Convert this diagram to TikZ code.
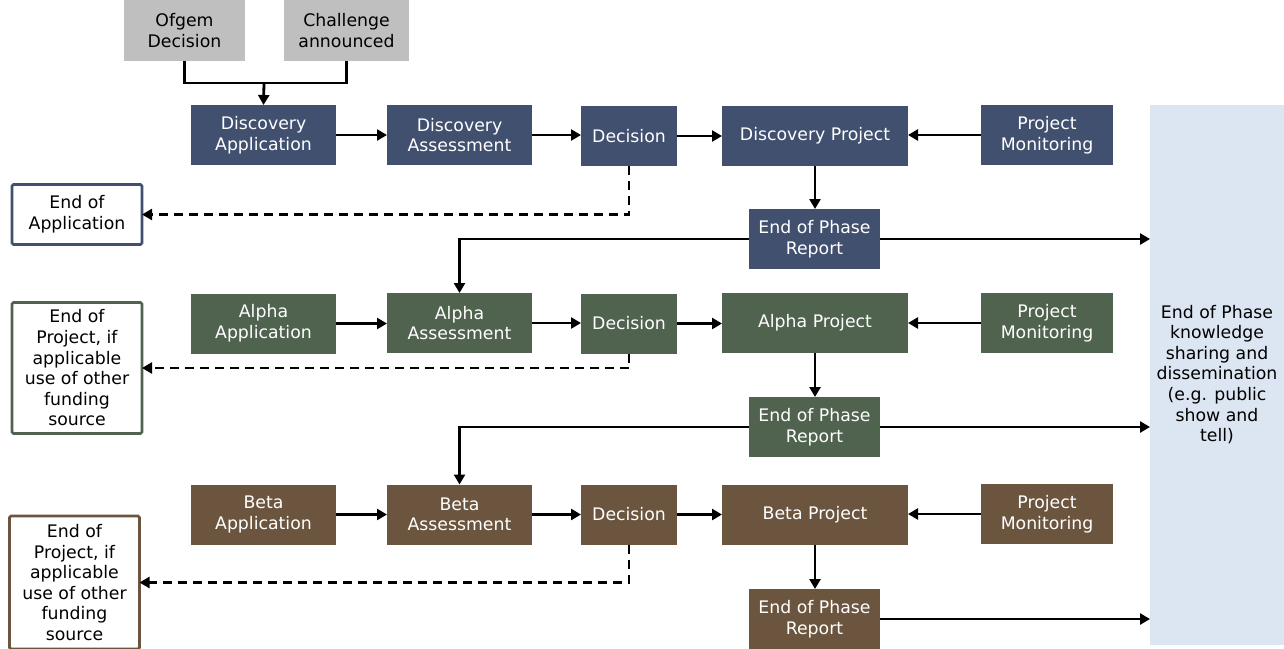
\documentclass[tikz,border=0pt]{standalone}
\usepackage{fontspec}
\setmainfont{DejaVu Sans}
\usetikzlibrary{arrows.meta,calc}
\definecolor{cdisc}{HTML}{41506F}
\definecolor{calpha}{HTML}{50634F}
\definecolor{cbeta}{HTML}{6B553E}
\definecolor{cgray}{HTML}{BFBFBF}
\definecolor{clight}{HTML}{DCE6F2}
\begin{document}
\begin{tikzpicture}[x=1pt,y=-1pt,
  every node/.style={font=\fontsize{17.3}{20.6}\selectfont, align=center, inner sep=0pt, outer sep=0pt},
  box/.style={minimum height=60pt, text=white},
  dbox/.style={box, fill=cdisc},
  abox/.style={box, fill=calpha},
  bbox/.style={box, fill=cbeta},
  gbox/.style={fill=cgray, text=black, minimum height=61pt},
  endbox/.style={draw=#1, fill=white, line width=2.6pt, rounded corners=1.5pt, text=black, minimum width=130pt},
  wapp/.style={minimum width=145pt},
  wdec/.style={minimum width=96pt},
  wproj/.style={minimum width=186pt},
  wmon/.style={minimum width=132pt},
  weop/.style={minimum width=131pt},
  conn/.style={line width=2.8pt, draw=black},
  arr/.style={conn, -{Triangle[length=10pt,width=11pt]}},
  darr/.style={arr, dash pattern=on 9pt off 6pt},
]
\useasboundingbox (0,0) rectangle (1284,648);

% light blue dissemination panel
\node[fill=clight, minimum width=134pt, minimum height=540pt, anchor=north west] (blue) at (1150,105) {};
\node[anchor=north, text=black] (bluetxt) at (1217,305) {End of Phase\\knowledge\\sharing and\\dissemination\\(e.g. public\\show and\\tell)};

% top gray boxes
\node[gbox, minimum width=121pt] (ofg) at (184.5,30.5) {Ofgem\\Decision};
\node[gbox, minimum width=125pt] (chal) at (346.5,30.5) {Challenge\\announced};

% Discovery row
\node[dbox, wapp] (dapp) at (263.5,135) {Discovery\\Application};
\node[dbox, wapp] (dass) at (459.5,135) {Discovery\\Assessment};
\node[dbox, wdec] (ddec) at (629,136) {Decision};
\node[dbox, wproj] (dproj) at (815,136) {Discovery Project};
\node[dbox, wmon] (dmon) at (1047,135) {Project\\Monitoring};
\node[dbox, weop] (deop) at (814.5,239) {End of Phase\\Report};
\node[endbox=cdisc, minimum height=60pt] (enda) at (77,214.5) {End of\\Application};

% Alpha row
\node[abox, wapp] (aapp) at (263.5,323.5) {Alpha\\Application};
\node[abox, wapp] (aass) at (459.5,323) {Alpha\\Assessment};
\node[abox, wdec] (adec) at (629,323.5) {Decision};
\node[abox, wproj] (aproj) at (815,323) {Alpha Project};
\node[abox, wmon] (amon) at (1047,323) {Project\\Monitoring};
\node[abox, weop] (aeop) at (814.5,427) {End of Phase\\Report};
\node[endbox=calpha, minimum height=131pt] (endb) at (77,368) {End of\\Project, if\\applicable\\use of other\\funding\\source};

% Beta row
\node[bbox, wapp] (bapp) at (263.5,514.5) {Beta\\Application};
\node[bbox, wapp] (bass) at (459.5,514.5) {Beta\\Assessment};
\node[bbox, wdec] (bdec) at (629,514.5) {Decision};
\node[bbox, wproj] (bproj) at (815,514.5) {Beta Project};
\node[bbox, wmon] (bmon) at (1047,514) {Project\\Monitoring};
\node[bbox, weop] (beop) at (814.5,619) {End of Phase\\Report};
\node[endbox=cbeta, minimum height=133pt] (endc) at (74.5,582.5) {End of\\Project, if\\applicable\\use of other\\funding\\source};

% top join
\coordinate (j) at (264,83);
\draw[conn] (ofg.south) |- (j) -| (chal.south);
\draw[arr] (j) -- (dapp.north);

% Discovery connectors
\draw[arr] (dapp.east) -- (dass.west);
\draw[arr] (dass.east) -- (dass.east -| ddec.west);
\draw[arr] (ddec.east) -- (dproj.west);
\draw[arr] (dmon.west) -- (dmon.west -| dproj.east);
\draw[arr] (dproj.south) -- (dproj.south |- deop.north);
\draw[arr] (deop.east) -- (deop.east -| blue.west);
\draw[arr] (deop.west) -| (aass.north);
\draw[darr] (ddec.south) |- (enda.east);

% Alpha connectors
\draw[arr] (aapp.east) -- (aapp.east -| aass.west);
\draw[arr] (aass.east) -- (aass.east -| adec.west);
\draw[arr] (adec.east) -- (adec.east -| aproj.west);
\draw[arr] (amon.west) -- (amon.west -| aproj.east);
\draw[arr] (aproj.south) -- (aproj.south |- aeop.north);
\draw[arr] (aeop.east) -- (aeop.east -| blue.west);
\draw[arr] (aeop.west) -| (bass.north);
\draw[darr] (adec.south) |- (endb.east);

% Beta connectors
\draw[arr] (bapp.east) -- (bass.west);
\draw[arr] (bass.east) -- (bdec.west);
\draw[arr] (bdec.east) -- (bproj.west);
\draw[arr] (bmon.west) -- (bmon.west -| bproj.east);
\draw[arr] (bproj.south) -- (bproj.south |- beop.north);
\draw[arr] (beop.east) -- (beop.east -| blue.west);
\draw[darr] (bdec.south) |- (endc.east);
\end{tikzpicture}
\end{document}
